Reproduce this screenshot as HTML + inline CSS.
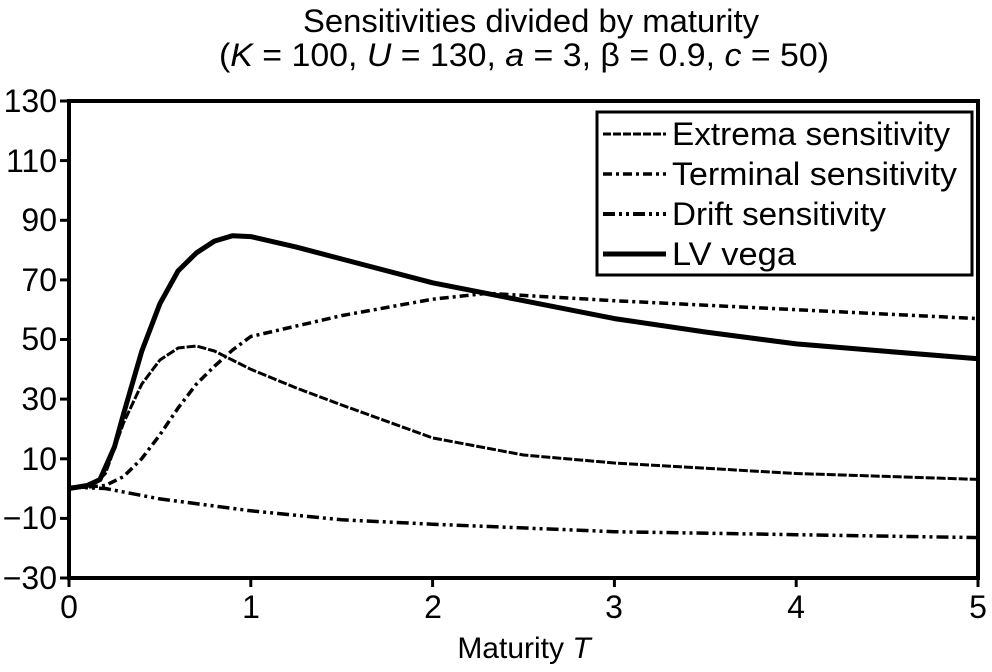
<!DOCTYPE html>
<html><head><style>body{margin:0;background:#fff}</style></head><body>
<svg width="992" height="667" xmlns="http://www.w3.org/2000/svg" font-family="Liberation Sans, Arial, sans-serif">
<rect width="992" height="667" fill="#fff"/>
<text x="531" y="32" font-size="32" text-anchor="middle" textLength="456" lengthAdjust="spacingAndGlyphs">Sensitivities divided by maturity</text>
<text x="524" y="66" font-size="32" text-anchor="middle" textLength="610" lengthAdjust="spacingAndGlyphs">(<tspan font-style="italic">K</tspan> = 100, <tspan font-style="italic">U</tspan> = 130, <tspan font-style="italic">a</tspan> = 3, β = 0.9, <tspan font-style="italic">c</tspan> = 50)</text>
<rect x="69" y="101" width="909" height="477" fill="none" stroke="#000" stroke-width="4"/>
<g stroke="#000" stroke-width="3">
<line x1="60" y1="101" x2="69" y2="101"/><line x1="60" y1="160.6" x2="69" y2="160.6"/><line x1="60" y1="220.3" x2="69" y2="220.3"/><line x1="60" y1="279.9" x2="69" y2="279.9"/><line x1="60" y1="339.5" x2="69" y2="339.5"/><line x1="60" y1="399.1" x2="69" y2="399.1"/><line x1="60" y1="458.8" x2="69" y2="458.8"/><line x1="60" y1="518.4" x2="69" y2="518.4"/><line x1="60" y1="578" x2="69" y2="578"/>
<line x1="69" y1="578" x2="69" y2="587"/><line x1="250.8" y1="578" x2="250.8" y2="587"/><line x1="432.6" y1="578" x2="432.6" y2="587"/><line x1="614.4" y1="578" x2="614.4" y2="587"/><line x1="796.2" y1="578" x2="796.2" y2="587"/><line x1="978" y1="578" x2="978" y2="587"/>
</g>
<g font-size="32" text-anchor="end">
<text x="57" y="112">130</text><text x="57" y="172">110</text><text x="57" y="231">90</text><text x="57" y="291">70</text><text x="57" y="350">50</text><text x="57" y="410">30</text><text x="57" y="470">10</text><text x="57" y="529">−10</text><text x="57" y="589">−30</text>
</g>
<g font-size="32" text-anchor="middle">
<text x="69" y="618">0</text><text x="251" y="618">1</text><text x="433" y="618">2</text><text x="614" y="618">3</text><text x="796" y="618">4</text><text x="978" y="618">5</text>
</g>
<text x="524" y="658" font-size="30" text-anchor="middle">Maturity <tspan font-style="italic">T</tspan></text>
<g fill="none" stroke="#000" stroke-linejoin="round" stroke-linecap="butt">
<polyline stroke-width="5" points="69,488.5 87.2,485.5 99.9,479.6 114.5,446.8 123.5,414 141.7,351.4 159.9,303.7 178.1,270.9 196.3,253 214.4,241.1 232.6,235.7 250.8,236.6 296.3,247.1 341.7,259 432.6,282.8 523.5,300.7 614.4,318.6 705.3,332 796.2,343.9 887.1,351.4 978,358.8"/>
<polyline stroke-width="3" stroke-dasharray="9,2" points="69,488.5 87.2,485.5 96.3,482.5 105.4,473.6 123.5,423 141.7,384.2 159.9,360 178.1,348 196.3,346 214.4,351 250.8,369.3 296.3,388 341.7,405 432.6,437.9 523.5,455 614.4,463 796.2,473.5 978,479.4"/>
<polyline stroke-width="3.5" stroke-dasharray="9,4,3,4" points="69,488.5 105.4,485.5 123.5,476.6 141.7,458.7 159.9,434.8 178.1,408 196.3,384.2 214.4,366.3 232.6,350 250.8,336.5 341.7,315.6 432.6,299.2 487.1,293.3 614.4,300.7 796.2,309.7 978,318.6"/>
<polyline stroke-width="3.5" stroke-dasharray="12,4,3,4,3,4" points="69,487 105.4,488.5 159.9,498.9 250.8,510.8 341.7,519.8 432.6,524.2 614.4,531.7 796.2,534.7 978,537.6"/>
</g>
<rect x="597" y="112" width="375" height="163" fill="#fff" stroke="#000" stroke-width="3"/>
<g fill="none" stroke="#000">
<line x1="603" y1="134" x2="666" y2="134" stroke-width="3" stroke-dasharray="8,2"/>
<line x1="603" y1="174" x2="666" y2="174" stroke-width="3.5" stroke-dasharray="9,4,3,4"/>
<line x1="603" y1="214" x2="666" y2="214" stroke-width="4" stroke-dasharray="12,4,3,4,3,4"/>
<line x1="603" y1="254" x2="666" y2="254" stroke-width="5"/>
</g>
<g font-size="32">
<text x="672" y="145" textLength="278" lengthAdjust="spacingAndGlyphs">Extrema sensitivity</text>
<text x="672" y="185" textLength="285" lengthAdjust="spacingAndGlyphs">Terminal sensitivity</text>
<text x="672" y="225" textLength="214" lengthAdjust="spacingAndGlyphs">Drift sensitivity</text>
<text x="672" y="265" textLength="124" lengthAdjust="spacingAndGlyphs">LV vega</text>
</g>
</svg>
</body></html>
